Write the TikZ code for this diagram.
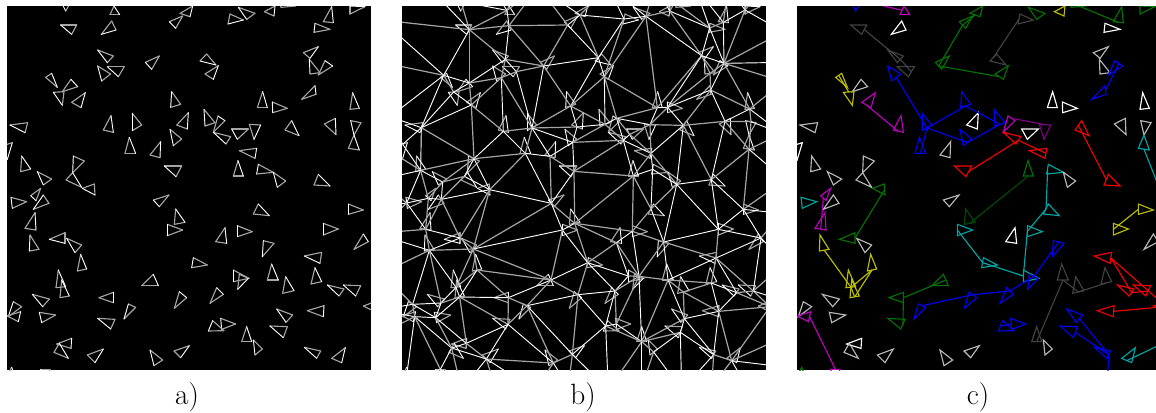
\documentclass[tikz,border=0pt]{standalone}
\definecolor{tb}{RGB}{0,0,245}
\definecolor{tm}{RGB}{190,0,190}
\definecolor{tp}{RGB}{130,0,130}
\definecolor{tr}{RGB}{245,0,0}
\definecolor{tg}{RGB}{0,115,0}
\definecolor{tdn}{RGB}{0,75,0}
\definecolor{tt}{RGB}{0,165,165}
\definecolor{ty}{RGB}{190,190,0}
\definecolor{tdg}{RGB}{66,66,66}
\definecolor{tlg}{RGB}{185,185,185}
\definecolor{tw}{RGB}{255,255,255}
\definecolor{sh}{RGB}{165,165,165}
\newcount\Npts \newcount\Ntri \newcount\Yoff
\newcount\da \newcount\db \newcount\dc \newcount\mx \newcount\my
\newcount\ia \newcount\ib \newcount\Xa \newcount\Ya \newcount\Xb \newcount\Yb
\newcount\crossv \newcount\dotv \newcount\cotv \newcount\minL \newcount\minR
\def\tris{}\def\ptslist{}\def\ctrs{}\def\edges{}
\def\dsq#1#2#3#4{\numexpr(#1-(#3))*(#1-(#3))+(#2-(#4))*(#2-(#4))\relax}
\def\addpt#1#2{%
  \global\advance\Npts 1
  \expandafter\xdef\csname px\the\Npts\endcsname{\the\numexpr#1\relax}%
  \expandafter\xdef\csname py\the\Npts\endcsname{\the\numexpr#2\relax}%
  \xdef\ptslist{\unexpanded\expandafter{\ptslist}\noexpand\PP{\the\numexpr#1\relax}{\the\numexpr#2\relax}}%
  \xdef\ctrs{\unexpanded\expandafter{\ctrs}\noexpand\CTR{\the\Npts}{\the\numexpr#1\relax}{\the\numexpr#2\relax}}}
% triangle: colour, three vertices; its place is the middle of its shortest side
\def\TRI#1#2#3#4#5#6#7{%
  \edef\ya{\the\numexpr#3+\Yoff\relax}\edef\yb{\the\numexpr#5+\Yoff\relax}\edef\yc{\the\numexpr#7+\Yoff\relax}%
  \da=\dsq{#4}{\yb}{#6}{\yc}\db=\dsq{#2}{\ya}{#6}{\yc}\dc=\dsq{#2}{\ya}{#4}{\yb}%
  \ifnum\da<\db
    \ifnum\da<\dc \mx=\numexpr(#4+#6)/2\relax \my=\numexpr(\yb+\yc)/2\relax
    \else \mx=\numexpr(#2+#4)/2\relax \my=\numexpr(\ya+\yb)/2\relax \fi
  \else
    \ifnum\db<\dc \mx=\numexpr(#2+#6)/2\relax \my=\numexpr(\ya+\yc)/2\relax
    \else \mx=\numexpr(#2+#4)/2\relax \my=\numexpr(\ya+\yb)/2\relax \fi
  \fi
  \addpt{\mx}{\my}%
  \xdef\tris{\unexpanded\expandafter{\tris}\noexpand\DT{#1}{#2}{\ya}{#4}{\yb}{#6}{\yc}}}
\def\GH#1#2{\addpt{#1}{#2}}
% --- upper half of the panels
\Yoff=0
\TRI{tb}{183}{5}{213}{5}{197}{33}
\TRI{tm}{342}{18}{330}{44}{359}{44}
\TRI{tdg}{182}{75}{230}{75}{215}{103}
\TRI{tw}{304}{103}{335}{63}{348}{90}
\TRI{tg}{508}{65}{548}{48}{527}{85}
\TRI{tg}{578}{18}{540}{40}{570}{50}
\TRI{tdg}{730}{60}{690}{42}{684}{72}
\TRI{tg}{715}{22}{765}{40}{740}{58}
\TRI{ty}{825}{18}{793}{35}{822}{48}
\TRI{tg}{836}{-8}{843}{22}{886}{18}
\TRI{tg}{995}{20}{970}{65}{1000}{68}
\TRI{tg}{1050}{18}{1050}{42}{1095}{20}
\TRI{tw}{945}{70}{990}{88}{942}{97}
\TRI{tdg}{293}{150}{340}{168}{322}{188}
\TRI{tb}{293}{198}{332}{222}{305}{243}
\TRI{tdg}{322}{200}{373}{200}{355}{230}
\TRI{tg}{436}{187}{478}{168}{455}{208}
\TRI{tdg}{600}{183}{620}{162}{648}{195}
\TRI{tg}{655}{197}{615}{222}{640}{238}
\TRI{tlg}{955}{140}{910}{158}{930}{175}
\TRI{tlg}{928}{178}{960}{218}{930}{222}
\TRI{tb}{998}{198}{955}{225}{975}{182}
\TRI{ty}{155}{220}{137}{232}{172}{262}
\TRI{tlg}{213}{238}{187}{275}{233}{260}
\TRI{ty}{160}{277}{192}{275}{187}{316}
\TRI{tm}{256}{278}{215}{307}{243}{323}
\TRI{tb}{515}{275}{542}{313}{512}{322}
\TRI{tb}{945}{257}{905}{298}{948}{283}
\TRI{tw}{788}{275}{772}{323}{802}{323}
\TRI{tw}{817}{306}{862}{325}{818}{338}
\TRI{tw}{1058}{278}{1050}{328}{1078}{325}
\TRI{tlg}{30}{375}{83}{368}{75}{398}
\TRI{tm}{333}{347}{310}{390}{340}{397}
\TRI{tb}{397}{340}{425}{375}{397}{392}
\TRI{tw}{565}{338}{530}{375}{562}{387}
\TRI{tb}{612}{328}{645}{368}{615}{378}
\TRI{tm}{654}{348}{640}{397}{675}{362}
\TRI{tp}{782}{375}{748}{373}{762}{418}
\TRI{tr}{875}{362}{855}{390}{897}{407}
\TRI{tlg}{1006}{355}{973}{372}{1008}{404}
\TRI{tlg}{1052}{362}{1083}{368}{1062}{405}
\TRI{tr}{640}{397}{692}{410}{678}{432}
\TRI{tw}{695}{387}{745}{387}{712}{418}
\TRI{tb}{510}{388}{545}{417}{520}{437}
\TRI{tt}{1062}{405}{1045}{445}{1078}{450}
\TRI{tw}{37}{428}{8}{437}{22}{478}
\TRI{tb}{388}{412}{375}{460}{407}{460}
\TRI{tlg}{482}{425}{450}{465}{480}{473}
\TRI{tr}{770}{445}{718}{452}{765}{475}
\TRI{tlg}{65}{468}{62}{515}{92}{507}
\TRI{tlg}{220}{468}{253}{483}{218}{518}
\TRI{tr}{493}{498}{545}{498}{528}{530}
\TRI{tg}{714}{482}{700}{528}{730}{528}
\TRI{tt}{775}{493}{820}{517}{770}{522}
\TRI{tlg}{820}{517}{857}{543}{832}{562}
\TRI{tlg}{112}{515}{155}{537}{130}{555}
\TRI{tlg}{218}{518}{198}{540}{245}{562}
\TRI{tr}{955}{523}{942}{555}{990}{558}
\TRI{tg}{247}{565}{283}{552}{285}{585}
% --- lower half of the panels
\Yoff=570
\TRI{tt}{33}{22}{80}{35}{37}{55}
\TRI{tm}{92}{17}{122}{-5}{108}{32}
\TRI{tlg}{130}{15}{147}{40}{100}{58}
\TRI{tm}{105}{68}{75}{115}{108}{120}
\TRI{tlg}{460}{30}{507}{15}{478}{50}
\TRI{tdn}{527}{57}{523}{103}{555}{97}
\TRI{tt}{502}{103}{548}{120}{502}{137}
\TRI{tt}{775}{42}{760}{72}{808}{77}
\TRI{ty}{1045}{42}{1090}{60}{1045}{73}
\TRI{tt}{712}{107}{757}{125}{712}{140}
\TRI{ty}{970}{100}{1015}{117}{970}{135}
\TRI{tw}{675}{113}{647}{155}{680}{160}
\TRI{tlg}{1090}{132}{1062}{178}{1105}{155}
\TRI{tg}{148}{148}{195}{128}{195}{160}
\TRI{ty}{90}{135}{117}{178}{88}{183}
\TRI{tlg}{200}{145}{245}{165}{225}{188}
\TRI{tb}{790}{152}{822}{160}{787}{200}
\TRI{tr}{913}{198}{965}{187}{960}{220}
\TRI{ty}{242}{193}{232}{243}{260}{237}
\TRI{tt}{580}{203}{622}{225}{575}{233}
\TRI{tt}{700}{240}{747}{265}{700}{275}
\TRI{tb}{745}{265}{718}{253}{713}{298}
\TRI{tdg}{815}{222}{802}{270}{835}{270}
\TRI{tdg}{945}{233}{933}{282}{965}{275}
\TRI{ty}{175}{240}{168}{293}{197}{290}
\TRI{ty}{185}{270}{180}{323}{208}{318}
\TRI{tg}{460}{253}{425}{287}{475}{287}
\TRI{tdg}{857}{260}{848}{310}{882}{302}
\TRI{tr}{982}{285}{1032}{297}{1017}{318}
\TRI{tr}{1030}{285}{1082}{287}{1067}{318}
\TRI{tb}{650}{293}{630}{340}{670}{313}
\TRI{tlg}{97}{313}{148}{327}{128}{350}
\TRI{tg}{340}{307}{297}{323}{340}{338}
\TRI{tb}{538}{305}{523}{355}{560}{323}
\TRI{tlg}{40}{335}{65}{350}{25}{380}
\TRI{tm}{62}{365}{22}{378}{55}{395}
\TRI{tlg}{118}{367}{167}{375}{125}{398}
\TRI{tb}{385}{342}{407}{352}{372}{387}
\TRI{tr}{972}{347}{922}{362}{970}{380}
\TRI{tg}{293}{385}{345}{388}{332}{417}
\TRI{tb}{830}{357}{878}{375}{858}{397}
\TRI{tr}{1125}{335}{1090}{348}{1125}{365}
\TRI{tb}{662}{385}{707}{402}{665}{418}
\TRI{tb}{638}{392}{672}{422}{625}{423}
\TRI{tb}{810}{408}{862}{410}{850}{443}
\TRI{tdg}{740}{410}{725}{455}{755}{455}
\TRI{tlg}{760}{450}{787}{477}{765}{495}
\TRI{tw}{215}{445}{170}{462}{213}{475}
\TRI{tlg}{178}{460}{162}{487}{205}{505}
\TRI{tlg}{310}{477}{262}{495}{285}{518}
\TRI{tlg}{568}{467}{522}{483}{542}{503}
\TRI{tlg}{450}{480}{488}{510}{462}{527}
\TRI{tb}{913}{472}{962}{483}{950}{505}
\TRI{tt}{1036}{473}{995}{505}{1025}{518}
\TRI{tg}{35}{532}{15}{570}{50}{570}
\TRI{tm}{122}{538}{150}{538}{136}{580}
\Ntri=\Npts
% --- agents beyond the frame, which only the lines of panel b reach
\GH{-40}{60}\GH{-50}{185}\GH{-15}{350}\GH{-20}{450}\GH{-50}{540}\GH{-40}{620}\GH{-60}{700}\GH{-40}{820}\GH{-50}{930}\GH{-40}{1000}\GH{-50}{1070}
\GH{100}{-40}\GH{280}{-50}\GH{430}{-40}\GH{640}{-40}\GH{780}{-50}\GH{900}{-40}\GH{1000}{-40}\GH{1110}{-40}
\GH{1165}{95}\GH{1165}{187}\GH{1165}{245}\GH{1160}{400}\GH{1170}{540}\GH{1160}{640}\GH{1170}{790}\GH{1160}{900}\GH{1170}{1010}\GH{1160}{1100}
\GH{100}{1160}\GH{200}{1170}\GH{300}{1160}\GH{420}{1170}\GH{520}{1160}\GH{640}{1170}\GH{740}{1160}\GH{860}{1170}\GH{950}{1160}\GH{1060}{1170}
% --- lines of panel b: every pair whose two opposite angles sum below 180 degrees
\def\PP#1#2{%
  \crossv=\numexpr(\Xb-\Xa)*(#2-\Ya)-(\Yb-\Ya)*(#1-\Xa)\relax
  \ifnum\crossv=0 \else
    \dotv=\numexpr(\Xa-(#1))*(\Xb-(#1))+(\Ya-(#2))*(\Yb-(#2))\relax
    \ifnum\crossv>0
      \cotv=\numexpr\dotv*100/\crossv\relax
      \ifnum\cotv<\minL \minL=\cotv\fi
    \else
      \crossv=-\crossv
      \cotv=\numexpr\dotv*100/\crossv\relax
      \ifnum\cotv<\minR \minR=\cotv\fi
    \fi
  \fi}
\def\innerloop{%
  \ifnum\ib>\Npts\else
    \Xb=\csname px\the\ib\endcsname\relax
    \Yb=\csname py\the\ib\endcsname\relax
    \ifnum\dsq{\Xa}{\Ya}{\Xb}{\Yb}<250000
      \minL=1000000000 \minR=1000000000
      \ptslist
      \ifnum\numexpr\minL+\minR\relax<0 \else
        \xdef\edges{\unexpanded\expandafter{\edges}\noexpand\EE{\the\ia}{\the\ib}}%
      \fi
    \fi
    \advance\ib 1
    \expandafter\innerloop
  \fi}
\def\outerloop{%
  \ifnum\ia>\Ntri\else
    \Xa=\csname px\the\ia\endcsname\relax
    \Ya=\csname py\the\ia\endcsname\relax
    \ib=\ia \advance\ib 1
    \innerloop
    \advance\ia 1
    \expandafter\outerloop
  \fi}
\ia=1 \outerloop
\tikzset{
  edgea/.style={draw=white,line width=0.7pt},
  edgeb/.style={draw=sh,line width=0.9pt},
  triw/.style={draw=white,line width=0.7pt,line cap=round},
  trig/.style={draw=sh,line width=0.85pt,line cap=round},
  lab/.style={inner sep=0pt,font=\fontsize{22}{26}\selectfont,text=black}
}
\def\CTR#1#2#3{\coordinate (p#1) at (#2,#3);}
\def\plainT#1#2#3#4#5#6#7{%
  \draw[trig] (#2,#3)--(#4,#5);\draw[trig] (#4,#5)--(#6,#7);\draw[triw] (#6,#7)--(#2,#3);}
\def\colourT#1#2#3#4#5#6#7{\draw[draw=#1,line width=0.85pt] (#2,#3)--(#4,#5)--(#6,#7)--cycle;}
\def\plainE#1#2{\ifodd\numexpr#1*3+#2*5+#1/3\relax\draw[edgea] (p#1)--(p#2);\else\draw[edgeb] (p#1)--(p#2);\fi}
\def\lk#1#2#3{\draw[draw=#1,line width=0.85pt] (p#2)--(p#3);}
\begin{document}
\begin{tikzpicture}[x=0.25pt,y=-0.25pt]
\useasboundingbox (0,0) rectangle (3468,1236);
\fill[white] (0,0) rectangle (3468,1236);
% panel a
\begin{scope}
  \fill[black] (21,18) rectangle (1113,1110);
  \clip (21,18) rectangle (1113,1110);
  \let\DT\plainT \tris
\end{scope}
% panel b
\begin{scope}[shift={(1185,0)}]
  \fill[black] (21,18) rectangle (1113,1110);
  \clip (21,18) rectangle (1113,1110);
  \let\DT\plainT \tris
  \ctrs
  \let\EE\plainE \edges
\end{scope}
% panel c
\begin{scope}[shift={(2370,0)}]
  \fill[black] (21,18) rectangle (1098,1110);
  \clip (21,18) rectangle (1098,1110);
  \let\DT\colourT \tris
  \ctrs
  \coordinate (offm) at (240,8);
  \coordinate (offt) at (1138,640);
  \coordinate (offr) at (1140,930);
  \coordinate (offq) at (1140,1020);
  \coordinate (offb) at (952,1150);
  \draw[draw=tm,line width=0.85pt] (p2)--(offm);
  \draw[draw=tt,line width=0.85pt] (p45)--(offt);
  \draw[draw=tr,line width=0.85pt] (p77)--(offr);
  \draw[draw=tt,line width=0.85pt] (p113)--(offq);
  \draw[draw=tb,line width=0.85pt] (p112)--(offb);
  \lk{tb}{15}{34}\lk{tb}{34}{27}\lk{tb}{27}{36}\lk{tb}{34}{44}\lk{tb}{44}{36}\lk{tb}{34}{47}
  \lk{tm}{26}{33}\lk{tp}{37}{38}
  \lk{tdg}{3}{14}\lk{tdg}{14}{16}\lk{tdg}{7}{18}
  \lk{tg}{5}{6}\lk{tg}{5}{17}\lk{tg}{17}{19}\lk{tg}{10}{11}
  \lk{ty}{23}{25}\lk{tb}{22}{28}
  \lk{tr}{52}{42}\lk{tr}{42}{49}\lk{tr}{39}{58}
  \lk{tt}{54}{67}\lk{tt}{67}{69}\lk{tt}{69}{80}\lk{tt}{80}{79}\lk{tt}{79}{66}
  \lk{tdn}{53}{65}\lk{tg}{86}{92}\lk{tg}{92}{99}\lk{tg}{59}{73}
  \lk{tm}{61}{63}\lk{tm}{95}{115}
  \lk{ty}{74}{84}\lk{ty}{84}{85}\lk{ty}{78}{84}\lk{ty}{78}{85}\lk{ty}{68}{70}
  \lk{tb}{76}{81}\lk{tb}{81}{90}\lk{tb}{90}{93}\lk{tb}{93}{97}\lk{tb}{102}{103}
  \lk{tb}{100}{112}\lk{tb}{104}{112}
  \lk{tdg}{82}{105}\lk{tdg}{82}{87}\lk{tdg}{87}{83}
  \lk{tr}{77}{88}\lk{tr}{88}{89}\lk{tr}{98}{101}
\end{scope}
\node[lab] (la) at (561,1191) {a)};
\node[lab] (lb) at (1749,1191) {b)};
\node[lab] (lc) at (2934,1191) {c)};
\end{tikzpicture}
\end{document}
